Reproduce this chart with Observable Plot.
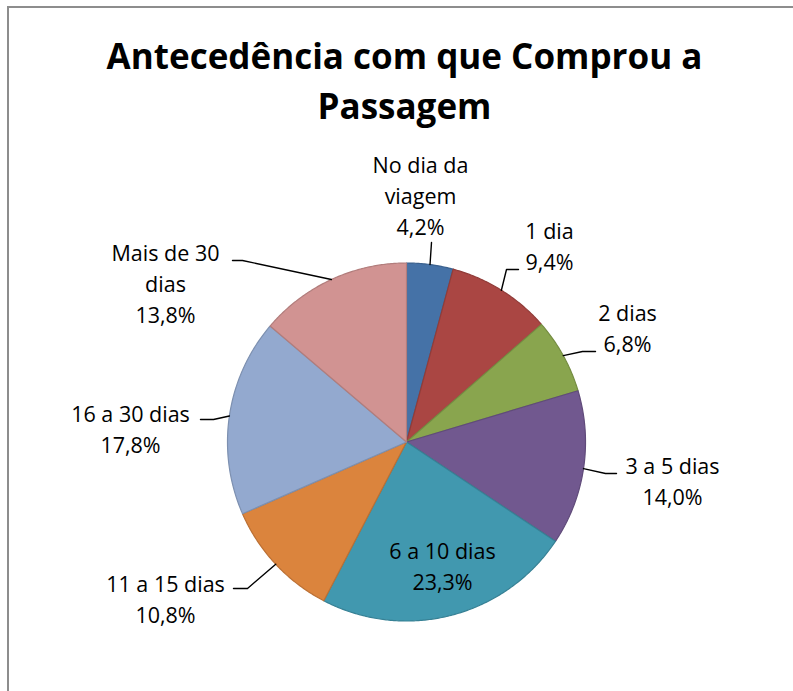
<!DOCTYPE html>
<html><head><meta charset="utf-8">
<script src="https://cdn.jsdelivr.net/npm/d3@7"></script>
<script src="https://cdn.jsdelivr.net/npm/@observablehq/plot@0.6"></script>
<style>
body{margin:0;background:#fff;}
#wrap{position:relative;width:793px;height:691px;overflow:hidden;background:#fff;}
#border{position:absolute;left:7px;top:6px;width:830px;height:730px;border:2px solid #8d8d8d;pointer-events:none;}
</style></head><body><div id="wrap"><div id="chart"></div><div id="border"></div></div>
<script>
// ---- data ----
const titleLines = ["Antecedência com que Comprou a", "Passagem"];
const categories = ["No dia da viagem", "1 dia", "2 dias", "3 a 5 dias", "6 a 10 dias", "11 a 15 dias", "16 a 30 dias", "Mais de 30 dias"];
const labelText = ["No dia da\nviagem", "1 dia", "2 dias", "3 a 5 dias", "6 a 10 dias", "11 a 15 dias", "16 a 30 dias", "Mais de 30\ndias"];
const values = [4.2, 9.4, 6.8, 14.0, 23.3, 10.8, 17.8, 13.8];
const colors = ["#4572A7", "#AA4643", "#89A54E", "#71588F", "#4198AF", "#DB843D", "#93A9CF", "#D19392"];

// ---- layout ----
const W = 793, H = 691;
const cx = 406, cy = 441.5, R = 179;
const fs = 21.5, lh = 31.3;
const fontFamily = "'Open Sans', sans-serif";
// label anchor: center x, first baseline y, leader elbow & end (null = none)
const labelLayout = [
  {x: 420, y: 172, leader: [[431, 242]]},
  {x: 549, y: 238, leader: [[506, 269], [518, 269]]},
  {x: 627, y: 320, leader: [[582, 351], [595, 351]]},
  {x: 672, y: 473, leader: [[605, 473], [616, 473]]},
  {x: 442, y: 558, leader: null},
  {x: 165, y: 591, leader: [[247, 588], [233, 588]]},
  {x: 130, y: 421, leader: [[213, 419], [200, 419]]},
  {x: 165, y: 260, leader: [[242, 260], [232, 260]]}
];

const arcs = d3.pie().sort(null).value(d => d).startAngle(0).endAngle(2 * Math.PI)(values);
const pt = (a, r) => [cx + r * Math.sin(a), cy - r * Math.cos(a)];

const sliceMarks = arcs.map((a, i) => {
  const n = Math.max(2, Math.ceil((a.endAngle - a.startAngle) / (Math.PI / 360)) + 1);
  const pts = [[cx, cy]];
  for (let k = 0; k < n; k++) {
    const t = a.startAngle + (a.endAngle - a.startAngle) * k / (n - 1);
    pts.push(pt(t, R));
  }
  return Plot.line(pts, {
    x: d => d[0], y: d => d[1], curve: "linear-closed",
    fill: colors[i], stroke: d3.color(colors[i]).darker(0.45).formatHex(),
    strokeWidth: 1.2, strokeLinejoin: "round"
  });
});

const leaderMarks = arcs.map((a, i) => {
  const L = labelLayout[i];
  if (!L.leader) return null;
  const mid = (a.startAngle + a.endAngle) / 2;
  const pts = [pt(mid, R), ...L.leader];
  return Plot.line(pts, {x: d => d[0], y: d => d[1], stroke: "#000", strokeWidth: 1.4});
}).filter(Boolean);

const textRows = [];
categories.forEach((c, i) => {
  const L = labelLayout[i];
  const lines = [...labelText[i].split("\n"), values[i].toFixed(1).replace(".", ",") + "%"];
  lines.forEach((s, j) => textRows.push({x: L.x, y: L.y + j * lh - 0.32 * fs, s}));
});

const tfs = 35;
const titleRows = titleLines.map((s, j) => ({x: 404, y: 68 + j * 50 - 0.32 * tfs, s}));

const chart = Plot.plot({
  width: W, height: H, margin: 0,
  x: {domain: [0, W], range: [0, W], axis: null},
  y: {domain: [0, H], range: [0, H], axis: null},
  style: {background: "transparent"},
  marks: [
    ...sliceMarks,
    ...leaderMarks,
    Plot.text(textRows, {x: "x", y: "y", text: "s", fill: "#000", fontSize: fs, fontFamily, textAnchor: "middle"}),
    Plot.text(titleRows, {x: "x", y: "y", text: "s", fill: "#000", fontSize: tfs, fontWeight: "bold", fontFamily, textAnchor: "middle"})
  ]
});
document.getElementById("chart").appendChild(chart);
</script>
</body></html>
